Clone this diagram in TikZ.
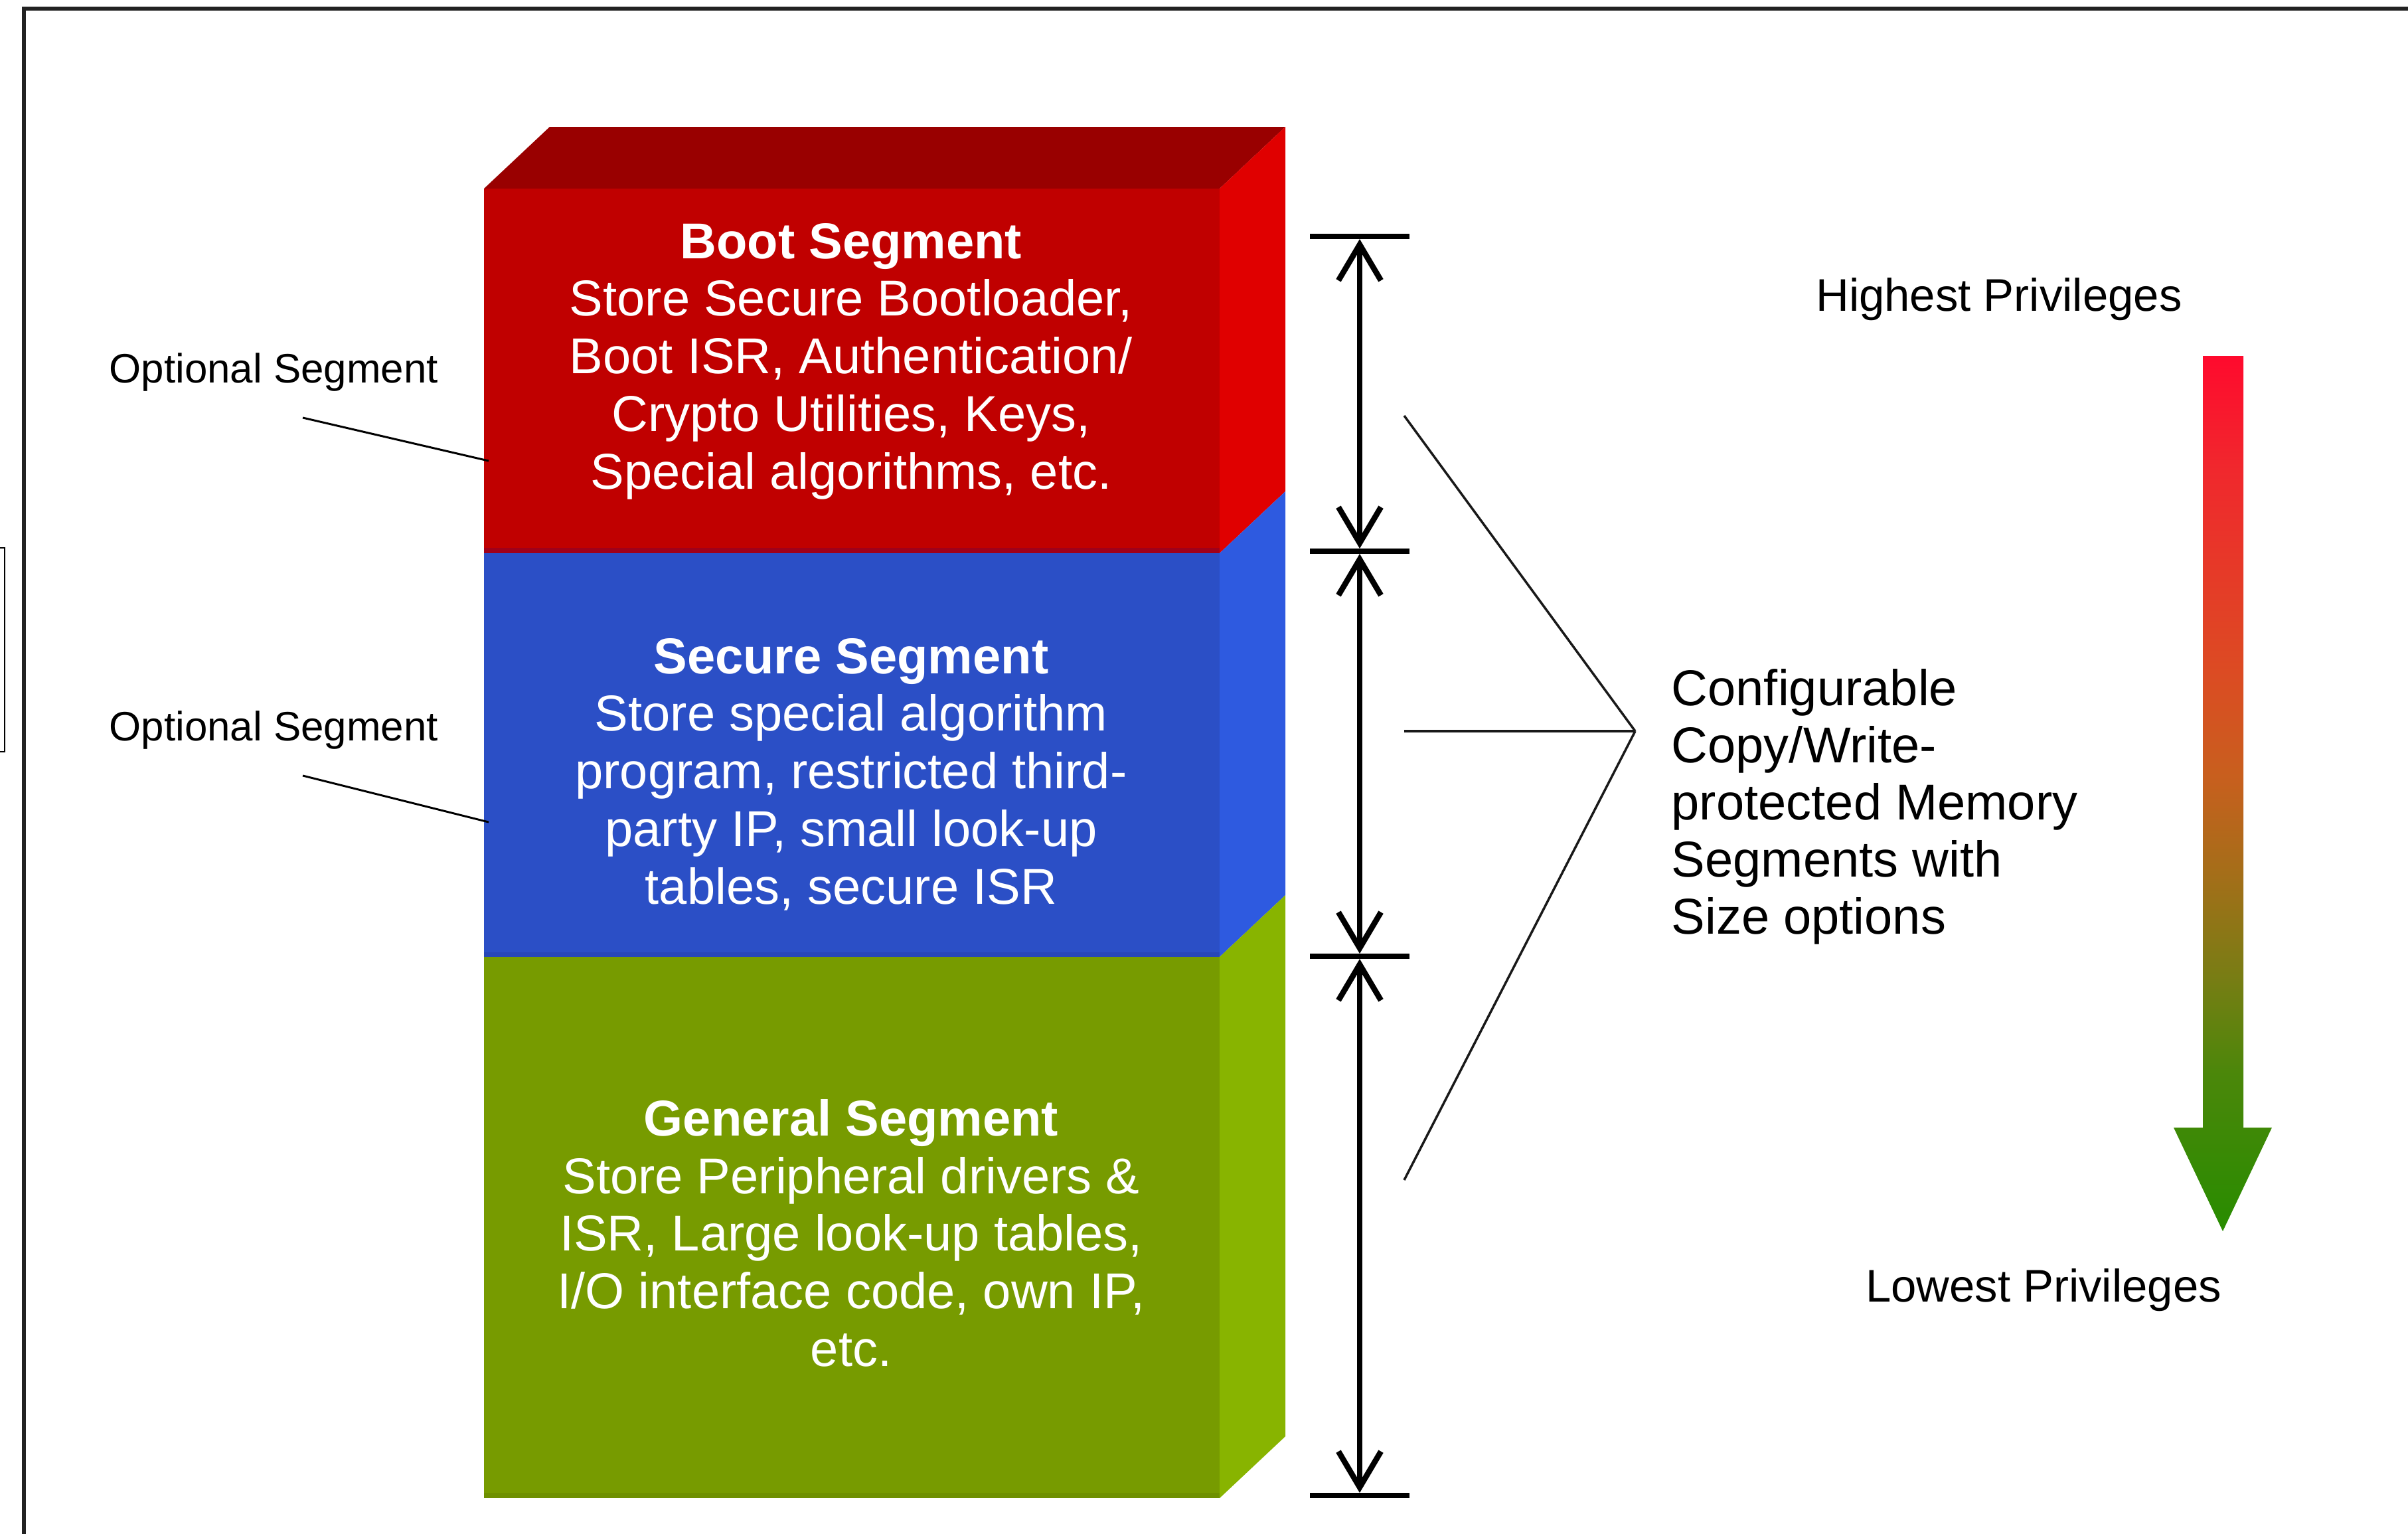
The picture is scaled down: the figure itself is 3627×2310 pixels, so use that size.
\documentclass[tikz,border=0pt]{standalone}
\usepackage{fontspec}
\setmainfont{Liberation Sans}
\usetikzlibrary{arrows.meta}

% face colours of the three memory segments
\definecolor{bootTop}{HTML}{990000}
\definecolor{bootFront}{HTML}{C00000}
\definecolor{bootSide}{HTML}{E00000}
\definecolor{bootBand}{HTML}{A0001A}
\definecolor{secFront}{HTML}{2B4FC6}
\definecolor{secSide}{HTML}{2E5AE0}
\definecolor{secBand}{HTML}{2747B8}
\definecolor{genFront}{HTML}{779B00}
\definecolor{genSide}{HTML}{88B400}
\definecolor{genBand}{HTML}{6E9000}
\definecolor{frameGray}{HTML}{222222}

% red-to-green privilege scale (stops 25bp..75bp span the filled shape)
\pgfdeclareverticalshading{privgrad}{100bp}{%
  color(0bp)=(rgb,255:red,40;green,140;blue,0);
  color(25bp)=(rgb,255:red,40;green,140;blue,0);
  color(34bp)=(rgb,255:red,75;green,135;blue,10);
  color(39.5bp)=(rgb,255:red,120;green,125;blue,20);
  color(45.5bp)=(rgb,255:red,165;green,110;blue,25);
  color(51bp)=(rgb,255:red,200;green,95;blue,30);
  color(57bp)=(rgb,255:red,220;green,75;blue,35);
  color(68.5bp)=(rgb,255:red,240;green,40;blue,45);
  color(75bp)=(rgb,255:red,255;green,10;blue,45);
  color(100bp)=(rgb,255:red,255;green,10;blue,45)}

\newcommand{\ctrlines}[1]{\begin{tabular}[t]{@{}c@{}}#1\end{tabular}}
\newcommand{\leftlines}[1]{\begin{tabular}[t]{@{}l@{}}#1\end{tabular}}

\begin{document}
\begin{tikzpicture}[x=0.1mm,y=-0.1mm,
  segtext/.style={text=white, inner sep=0pt, anchor=base,
    font=\fontsize{21.6}{24.75}\selectfont},
  notetext/.style={text=black, inner sep=0pt, anchor=base west,
    font=\fontsize{21.6}{24.5}\selectfont},
  privtext/.style={text=black, inner sep=0pt, anchor=base,
    font=\fontsize{19.6}{23}\selectfont},
  opttext/.style={text=black, inner sep=0pt, anchor=base west,
    font=\fontsize{17.6}{21}\selectfont},
  pointer/.style={draw=black, line width=0.3mm},
  bracketline/.style={draw=black!90, line width=0.35mm},
  tick/.style={draw=black, line width=0.85mm},
  dimarrow/.style={draw=black, line width=0.85mm,
    {Straight Barb[length=5.4mm,width=6.4mm]}-{Straight Barb[length=5.4mm,width=6.4mm]},
    shorten <=0.4mm, shorten >=0.4mm},
]
\useasboundingbox (0,0) rectangle (3627,2310);
\fill[white] (0,0) rectangle (3627,2310);

% page frame and the edge of the neighbouring box
\draw[frameGray, line width=0.6mm] (36,2400) -- (36,13) -- (3700,13);
\draw[black, line width=0.25mm] (-20,825) rectangle (7,1132);

% ---- the stacked memory block ----
% top face
\fill[bootTop] (729,284) -- (828,191) -- (1936,191) -- (1837,284) -- cycle;
% side faces
\fill[bootSide] (1837,284) -- (1936,191) -- (1936,740) -- (1837,833) -- cycle;
\fill[secSide] (1837,833) -- (1936,740) -- (1936,1348) -- (1837,1441) -- cycle;
\fill[genSide] (1837,1441) -- (1936,1348) -- (1936,2163) -- (1837,2256) -- cycle;
% front faces
\fill[bootFront] (729,284) rectangle (1837,833);
\fill[secFront] (729,833) rectangle (1837,1441);
\fill[genFront] (729,1441) rectangle (1837,2256);
% darker lower rims of the front faces
\fill[bootBand] (729,825) rectangle (1837,833);
\fill[secBand] (729,1434) rectangle (1837,1441);
\fill[genBand] (729,2248) rectangle (1837,2256);

% segment descriptions
\node[segtext] (boot) at (1282,389) {\ctrlines{\textbf{Boot Segment}\\
  Store Secure Bootloader,\\Boot ISR, Authentication/\\
  Crypto Utilities, Keys,\\Special algorithms, etc.}};
\node[segtext] (secure) at (1282,1014) {\ctrlines{\textbf{Secure Segment}\\
  Store special algorithm\\program, restricted third-\\
  party IP, small look-up\\tables, secure ISR}};
\node[segtext] (general) at (1282,1710) {\ctrlines{\textbf{General Segment}\\
  Store Peripheral drivers \&\\ISR, Large look-up tables,\\
  I/O interface code, own IP,\\etc.}};

% optional segment call-outs
\node[opttext] (opt1) at (164,576) {Optional Segment};
\node[opttext] (opt2) at (164,1115) {Optional Segment};
\coordinate (opt1from) at (456,629);
\coordinate (opt1to) at (736,694);
\coordinate (opt2from) at (456,1168);
\coordinate (opt2to) at (736,1238);
\draw[pointer] (opt1from) -- (opt1to);
\draw[pointer] (opt2from) -- (opt2to);

% ---- size dimension arrows ----
\coordinate (t1) at (2048,356);
\coordinate (t2) at (2048,830);
\coordinate (t3) at (2048,1440);
\coordinate (t4) at (2048,2252);
\foreach \t in {t1,t2,t3,t4}
  \draw[tick] ([xshift=-7.5mm]\t) -- ([xshift=7.5mm]\t);
\draw[dimarrow] (t1) -- (t2);
\draw[dimarrow] (t2) -- (t3);
\draw[dimarrow] (t3) -- (t4);

% ---- bracket to the configuration note ----
\coordinate (apex) at (2463,1101);
\coordinate (brTop) at (2115,626);
\coordinate (brMid) at (2115,1101);
\coordinate (brBot) at (2115,1777);
\draw[bracketline] (brTop) -- (apex);
\draw[bracketline] (brMid) -- (apex);
\draw[bracketline] (brBot) -- (apex);

\node[notetext] (note) at (2517,1062) {\leftlines{Configurable\\Copy/Write-\\
  protected Memory\\Segments with\\Size options}};

% ---- privilege scale ----
\node[privtext] (high) at (3011,468) {Highest Privileges};
\node[privtext] (low) at (3078,1960) {Lowest Privileges};
\shade[shading=privgrad]
  (3318,536) -- (3379,536) -- (3379,1698) -- (3422,1698) -- (3348,1854)
  -- (3274,1698) -- (3318,1698) -- cycle;
\end{tikzpicture}
\end{document}
